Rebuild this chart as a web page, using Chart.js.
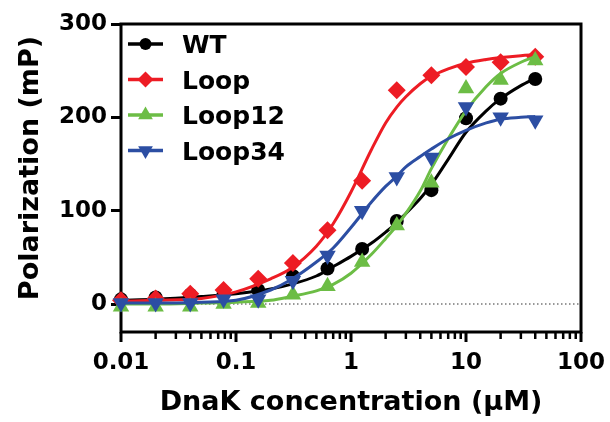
<!DOCTYPE html>
<html>
<head>
<meta charset="utf-8">
<script src="https://cdn.jsdelivr.net/npm/chart.js@4.4.1/dist/chart.umd.min.js"></script>
<style>
  html, body { margin: 0; padding: 0; background: #fff; }
</style>
</head>
<body>
<canvas id="chart" width="610" height="422"></canvas>
<script>
// DnaK titration, polarization in mP
const concentrations = [0.01, 0.02, 0.04, 0.078, 0.156, 0.3125, 0.625, 1.25, 2.5, 5, 10, 20, 40];
const wtPoints     = [5, 7, 10, 11, 15, 30, 38, 59, 89, 122, 199, 220, 241];
const loopPoints   = [4, 6, 11, 15, 27, 44, 79, 132, 229, 245, 254, 259, 265];
const loop12Points = [-3, -3, -3, 0, 1, 10, 19, 45, 84, 130, 231, 240, 261];
const loop34Points = [1, 1, 1, 5, 5, 25, 52, 100, 136, 157, 211, 200, 197];

// fitted curves
const fitX      = [0.01, 0.02, 0.05, 0.1, 0.2, 0.3, 0.5, 0.7, 1, 1.5, 2, 2.5, 3, 4, 5, 7, 10, 15, 20, 30, 40];
const wtFit     = [4, 5, 8, 11, 16, 21, 30, 40, 51, 65, 77, 87, 97, 113, 128, 155, 184, 207, 220, 234, 242];
const loopFit   = [3, 4, 6, 13, 27, 38, 62, 86, 120, 165, 194, 211, 222, 236, 244, 252, 258, 262, 264, 266, 267];
const loop12Fit = [0, 0, 1, 2, 4, 8, 14, 21, 33, 53, 70, 84, 97, 121, 145, 177, 207, 233, 247, 259, 265];
const loop34Fit = [1, 1, 2, 4, 15, 26, 45, 60, 82, 109, 126, 137, 147, 158, 166, 177, 186, 194, 198, 200, 201];

const xTickValues = [0.01, 0.1, 1, 10, 100];
const xTickLabels = ["0.01", "0.1", "1", "10", "100"];
const yTickValues = [0, 100, 200, 300];

const series = [
    { label: "WT", points: wtPoints, fit: wtFit, color: "#000000", style: "circle", radius: 7, rotation: 0 },
    { label: "Loop", points: loopPoints, fit: loopFit, color: "#ed1c24", style: "rectRot", radius: 9, rotation: 0 },
    { label: "Loop12", points: loop12Points, fit: loop12Fit, color: "#6cbd45", style: "triangle", radius: 9.5, rotation: 0 },
    { label: "Loop34", points: loop34Points, fit: loop34Fit, color: "#2c4ea3", style: "triangle", radius: 9.5, rotation: 180 },
];

const FONT = "'DejaVu Sans', sans-serif";
const tickFont = { family: FONT, size: 23, weight: "bold" };
const titleFont = { family: FONT, size: 27, weight: "bold" };
const yTitle = "Polarization (mP)";

function isDecade(v) {
    const l = Math.log10(v);
    return Math.abs(l - Math.round(l)) < 1e-9;
}

const datasets = [{
    label: "zero",
    data: [{ x: 0.01, y: 0 }, { x: 100, y: 0 }],
    borderColor: "#333333",
    borderWidth: 1.2,
    borderDash: [1.5, 2.5],
    pointRadius: 0,
    order: 50,
}];

series.forEach((s, i) => {
    const level = (series.length - i) * 2;
    datasets.push({
        label: s.label + " fit",
        data: fitX.map((x, k) => ({ x, y: s.fit[k] })),
        borderColor: s.color,
        borderWidth: 3,
        pointRadius: 0,
        cubicInterpolationMode: "monotone",
        order: level,
    });
    datasets.push({
        label: s.label,
        data: concentrations.map((x, k) => ({ x, y: s.points[k] })),
        showLine: false,
        pointStyle: s.style,
        pointRadius: s.radius,
        pointRotation: s.rotation,
        pointBackgroundColor: s.color,
        pointBorderColor: s.color,
        pointBorderWidth: 0,
        clip: false,
        order: level - 1,
    });
});

const framePlugin = {
    id: "frame",
    beforeDatasetsDraw(chart) {
        const { ctx, chartArea: a } = chart;
        const x = chart.scales.x;
        ctx.save();
        ctx.strokeStyle = "#000";
        ctx.lineWidth = 3;
        ctx.strokeRect(a.left, a.top, a.right - a.left, a.bottom - a.top);
        x.ticks.forEach((t) => {
            const px = x.getPixelForValue(t.value);
            const major = isDecade(t.value);
            ctx.lineWidth = major ? 3 : 2.5;
            ctx.beginPath();
            ctx.moveTo(px, a.bottom);
            ctx.lineTo(px, a.bottom + (major ? 10 : 7));
            ctx.stroke();
        });

        // y title, placed a little above the plot centre like the original
        ctx.translate(31, (a.top + a.bottom) / 2 - 10);
        ctx.rotate(-Math.PI / 2);
        ctx.font = "bold 27px " + FONT;
        ctx.fillStyle = "#000";
        ctx.textAlign = "center";
        ctx.textBaseline = "middle";
        ctx.fillText(yTitle, 0, 0);
        ctx.restore();
    },
    afterDraw(chart) {
        const { ctx, chartArea: a } = chart;
        ctx.save();
        ctx.font = "bold 25px " + FONT;
        ctx.textBaseline = "alphabetic";
        series.forEach((s, i) => {
            const cy = a.top + 20 + i * 35.5;
            const x0 = a.left + 7;
            ctx.strokeStyle = s.color;
            ctx.fillStyle = s.color;
            ctx.lineWidth = 3.5;
            ctx.beginPath();
            ctx.moveTo(x0, cy);
            ctx.lineTo(x0 + 35, cy);
            ctx.stroke();
            Chart.helpers.drawPoint(ctx, {
                pointStyle: s.style,
                radius: s.radius - 1,
                rotation: s.rotation,
                borderWidth: 0,
            }, x0 + 17.5, cy);
            ctx.fillStyle = "#000";
            ctx.fillText(s.label, a.left + 61, cy + 9);
        });
        ctx.restore();
    },
};

new Chart(document.getElementById("chart"), {
    type: "line",
    data: { datasets },
    options: {
        responsive: false,
        animation: false,
        layout: { padding: { top: 24, right: 29, left: 0, bottom: 0 } },
        plugins: {
            legend: { display: false },
            tooltip: { enabled: false },
        },
        scales: {
            x: {
                type: "logarithmic",
                min: 0.01,
                max: 100,
                border: { display: false },
                grid: { display: false, drawTicks: false },
                afterBuildTicks: (scale) => {
                    const ticks = [];
                    for (let e = -2; e < 2; e++) {
                        for (let m = 1; m <= 9; m++) {
                            ticks.push({ value: Number((m * Math.pow(10, e)).toPrecision(6)) });
                        }
                    }
                    ticks.push({ value: 100 });
                    scale.ticks = ticks;
                },
                afterFit: (scale) => {
                    scale.height = 90;
                    scale.paddingLeft = 0;
                    scale.paddingRight = 0;
                },
                ticks: {
                    autoSkip: false,
                    maxRotation: 0,
                    padding: 17,
                    color: "#000",
                    font: tickFont,
                    callback: (value) => {
                        const idx = xTickValues.findIndex((t) => Math.abs(t - value) < t * 1e-6);
                        return idx >= 0 ? xTickLabels[idx] : "";
                    },
                },
                title: {
                    display: true,
                    text: "DnaK concentration (μM)",
                    color: "#000",
                    font: titleFont,
                    padding: { top: 0, bottom: 3 },
                },
            },
            y: {
                min: -30,
                max: 300,
                border: { display: false },
                grid: { drawOnChartArea: false, tickLength: 10, tickWidth: 3, tickColor: "#000" },
                afterBuildTicks: (scale) => {
                    scale.ticks = yTickValues.map((v) => ({ value: v }));
                },
                afterFit: (scale) => { scale.width = 121; },
                ticks: {
                    padding: 4,
                    color: "#000",
                    font: tickFont,
                },
            },
        },
    },
    plugins: [framePlugin],
});
</script>
</body>
</html>
